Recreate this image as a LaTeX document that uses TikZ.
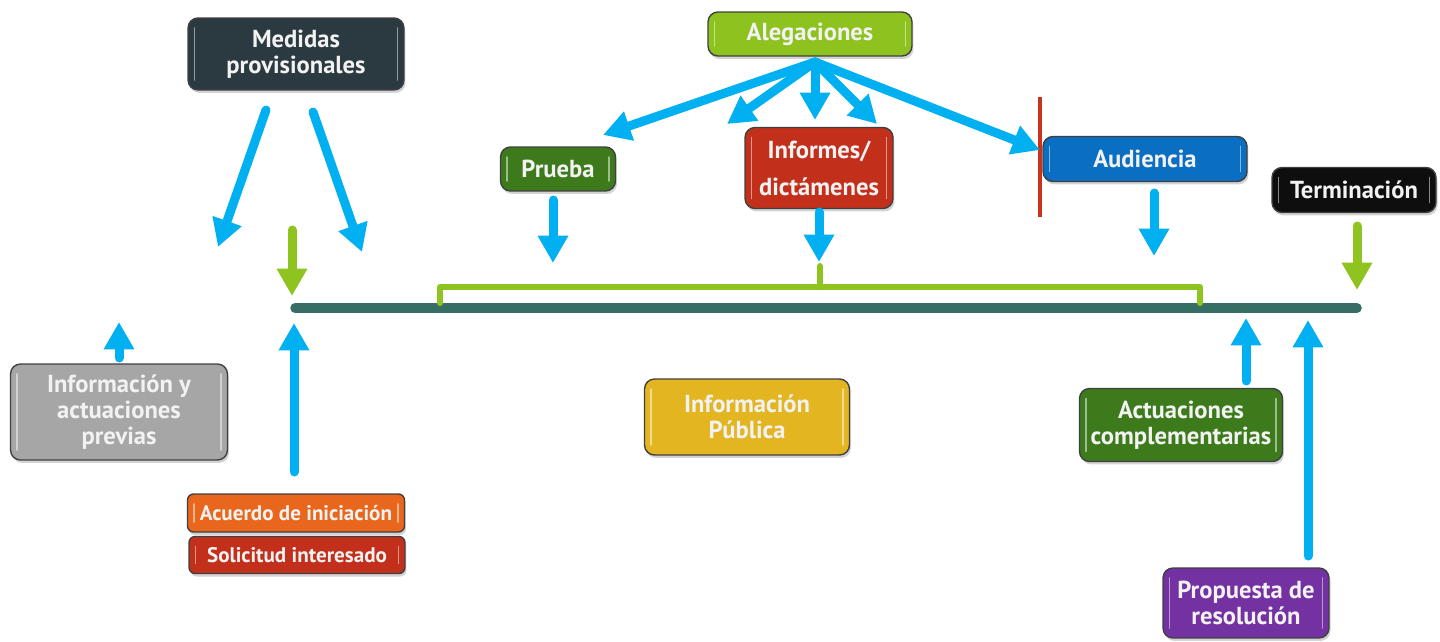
\documentclass[tikz,border=0pt]{standalone}
\usepackage{fontspec}
\setmainfont{PT Sans}
\usetikzlibrary{arrows.meta,shadows}
\definecolor{ablue}{HTML}{00B0F0}
\definecolor{agreen}{HTML}{8FC31F}
\definecolor{tline}{HTML}{366E66}
\definecolor{redline}{HTML}{C8321E}
\definecolor{cslate}{HTML}{2B3A41}
\definecolor{clime}{HTML}{8DC21F}
\definecolor{cdgreen}{HTML}{3D7A1C}
\definecolor{cred}{HTML}{C2301C}
\definecolor{cblue}{HTML}{0A6FC2}
\definecolor{cblack}{HTML}{0E0E0E}
\definecolor{cgray}{HTML}{A6A6A6}
\definecolor{cyellow}{HTML}{E2B521}
\definecolor{corange}{HTML}{E8671C}
\definecolor{cpurple}{HTML}{7431A1}
\tikzset{
  box/.style={draw=black!75, line width=0.8pt, rounded corners=0.2cm, text=white!95!black,
    font=\bfseries\fontsize{14}{15}\selectfont, align=center, inner sep=0pt,
    drop shadow={shadow xshift=0.03cm, shadow yshift=-0.06cm, opacity=0.35},
    path picture={
      \draw[white, opacity=0.5, line width=1.1pt, line cap=round]
        ([xshift=0.13cm,yshift=-0.2cm]path picture bounding box.north west) --
        ([xshift=0.13cm,yshift=0.2cm]path picture bounding box.south west);
      \draw[white, opacity=0.5, line width=1.1pt, line cap=round]
        ([xshift=-0.13cm,yshift=-0.2cm]path picture bounding box.north east) --
        ([xshift=-0.13cm,yshift=0.2cm]path picture bounding box.south east);
    }},
  smallbox/.style={box, font=\bfseries\fontsize{12}{13}\selectfont, rounded corners=0.12cm},
  barrow/.style={draw=ablue, line width=0.18cm, line cap=round,
    -{Triangle[width=0.58cm,length=0.55cm]}},
  garrow/.style={barrow, draw=agreen},
}
\begin{document}
\begin{tikzpicture}[x=0.02cm,y=-0.02cm]
\useasboundingbox (0,0) rectangle (1440,642);
% timeline and bracket
\coordinate (tlL) at (295,308);
\coordinate (tlR) at (1357,308);
\draw[tline, line width=0.19cm, line cap=round] (tlL) -- (tlR);
\coordinate (brA) at (440,303);
\coordinate (brB) at (1200,303);
\coordinate (brM) at (820,266);
\draw[agreen, line width=0.12cm, line cap=round, line join=round]
  (brA) -- (440,287) -- (1200,287) -- (brB);
\draw[agreen, line width=0.12cm, line cap=round] (820,287) -- (brM);
% red line
\coordinate (rlT) at (1040,97);
\coordinate (rlB) at (1040,217);
\draw[redline, line width=0.08cm] (rlT) -- (rlB);

% nodes
\node[box, fill=cslate, minimum width=4.32cm, minimum height=1.44cm] (med) at (296,54) {Medidas\\provisionales};
\node[box, fill=clime, minimum width=4.08cm, minimum height=0.88cm] (aleg) at (810,34) {Alegaciones};
\node[box, fill=cdgreen, minimum width=2.3cm, minimum height=0.88cm] (prueba) at (558,169) {Prueba};
\node[box, fill=cred, minimum width=2.96cm, minimum height=1.62cm] (inf) at (819,168) {Informes/\\[6pt]dictámenes};
\node[box, fill=cblue, minimum width=4.08cm, minimum height=0.9cm] (aud) at (1145,159) {Audiencia};
\node[box, fill=cblack, minimum width=3.28cm, minimum height=0.9cm] (term) at (1354,190) {Terminación};
\node[box, fill=cgray, minimum width=4.34cm, minimum height=1.92cm] (prev) at (119,412) {Información y\\actuaciones\\previas};
\node[box, fill=cyellow, minimum width=4.1cm, minimum height=1.52cm] (pub) at (747,417) {Información\\Pública};
\node[box, fill=cdgreen, minimum width=4.06cm, minimum height=1.46cm] (act) at (1181,425) {Actuaciones\\complementarias};
\node[smallbox, fill=corange, minimum width=4.34cm, minimum height=0.76cm] (acu) at (296,513) {Acuerdo de iniciación};
\node[smallbox, fill=cred, minimum width=4.32cm, minimum height=0.74cm] (sol) at (297,555) {Solicitud interesado};
\node[box, fill=cpurple, minimum width=3.32cm, minimum height=1.4cm] (prop) at (1246,603) {Propuesta de\\resolución};

% arrow coordinates
\coordinate (m1s) at (266,110); \coordinate (m1e) at (218,247);
\coordinate (m2s) at (313,112); \coordinate (m2e) at (362,252);
\coordinate (g1s) at (292,230); \coordinate (g1e) at (292,296);
\coordinate (p1s) at (119,358); \coordinate (p1e) at (119,322);
\coordinate (a1s) at (294,472); \coordinate (a1e) at (294,323);
\coordinate (al) at (815,62);
\coordinate (al1) at (603,135);
\coordinate (al2) at (727,124);
\coordinate (al3) at (815,120);
\coordinate (al4) at (877,124);
\coordinate (al5) at (1040,150);
\coordinate (pr1s) at (553,200); \coordinate (pr1e) at (553,263);
\coordinate (in1s) at (819,212); \coordinate (in1e) at (819,262);
\coordinate (au1s) at (1154,193); \coordinate (au1e) at (1154,256);
\coordinate (t1s) at (1357,226); \coordinate (t1e) at (1357,290);
\coordinate (ac1s) at (1246,381); \coordinate (ac1e) at (1246,318);
\coordinate (pp1s) at (1308,556); \coordinate (pp1e) at (1308,320);

\draw[barrow] (m1s) -- (m1e);
\draw[barrow] (m2s) -- (m2e);
\draw[garrow] (g1s) -- (g1e);
\draw[barrow] (p1s) -- (p1e);
\draw[barrow] (a1s) -- (a1e);
\draw[barrow] (al) -- (al1);
\draw[barrow] (al) -- (al2);
\draw[barrow] (al) -- (al3);
\draw[barrow] (al) -- (al4);
\draw[barrow] (al) -- (al5);
\draw[barrow] (pr1s) -- (pr1e);
\draw[barrow] (in1s) -- (in1e);
\draw[barrow] (au1s) -- (au1e);
\draw[garrow] (t1s) -- (t1e);
\draw[barrow] (ac1s) -- (ac1e);
\draw[barrow] (pp1s) -- (pp1e);
\end{tikzpicture}
\end{document}
